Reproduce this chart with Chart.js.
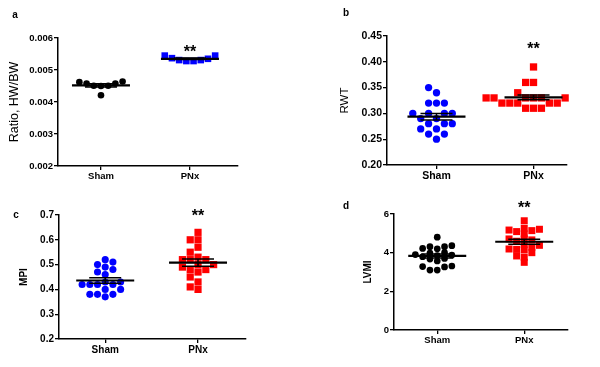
<!DOCTYPE html>
<html><head><meta charset="utf-8">
<script src="https://cdn.jsdelivr.net/npm/chart.js@4"></script>
<style>
body{margin:0;background:#fff;}
#wrap{position:relative;width:600px;height:367px;overflow:hidden;font-family:"Liberation Sans",Arial,sans-serif;background:#fff;}
canvas{position:absolute;}
.lbl{position:absolute;font-weight:bold;font-size:10px;line-height:10px;transform:translate(-50%,-50%);color:#000;}
</style></head><body>
<div id="wrap">
<canvas id="cA" width="300" height="190" style="left:0;top:0"></canvas>
<canvas id="cB" width="300" height="190" style="left:300px;top:0"></canvas>
<canvas id="cC" width="300" height="177" style="left:0;top:190px"></canvas>
<canvas id="cD" width="300" height="177" style="left:300px;top:190px"></canvas>
<div class="lbl" style="left:15px;top:15px">a</div>
<div class="lbl" style="left:346px;top:13px">b</div>
<div class="lbl" style="left:16px;top:215px">c</div>
<div class="lbl" style="left:346px;top:206px">d</div>
</div>
<script>
// ---------- data ----------
const categories = ['Sham', 'PNx'];
const sigLabel = '**';

const hwbwSham = [0.00462, 0.00458, 0.00451, 0.00450, 0.00451, 0.00458, 0.00464, 0.00421];
const hwbwPNx  = [0.00545, 0.00535, 0.00531, 0.00528, 0.00528, 0.00531, 0.00537, 0.00545];
const hwbwTicks = [0.002, 0.003, 0.004, 0.005, 0.006];
const hwbwTickLabels = ['0.002', '0.003', '0.004', '0.005', '0.006'];

const rwtSham = [0.35, 0.34, 0.32, 0.32, 0.32, 0.30, 0.30, 0.30, 0.30, 0.29, 0.29, 0.28, 0.28, 0.28, 0.27, 0.27, 0.26, 0.26, 0.25];
const rwtPNx  = [0.39, 0.36, 0.36, 0.34, 0.33, 0.33, 0.33, 0.33, 0.33, 0.33, 0.33, 0.32, 0.32, 0.32, 0.32, 0.32, 0.31, 0.31, 0.31];
const rwtTicks = [0.20, 0.25, 0.30, 0.35, 0.40, 0.45];
const rwtTickLabels = ['0.20', '0.25', '0.30', '0.35', '0.40', '0.45'];

const mpiSham = [0.52, 0.51, 0.50, 0.49, 0.48, 0.47, 0.46, 0.43, 0.43, 0.42, 0.42, 0.42, 0.42, 0.40, 0.40, 0.38, 0.38, 0.38, 0.37];
const mpiPNx  = [0.63, 0.60, 0.60, 0.57, 0.55, 0.53, 0.52, 0.52, 0.52, 0.50, 0.50, 0.49, 0.48, 0.48, 0.47, 0.45, 0.43, 0.41, 0.40];
const mpiTicks = [0.2, 0.3, 0.4, 0.5, 0.6, 0.7];
const mpiTickLabels = ['0.2', '0.3', '0.4', '0.5', '0.6', '0.7'];

const lvmiSham = [4.80, 4.36, 4.31, 4.31, 4.22, 4.20, 4.00, 3.98, 3.90, 3.88, 3.85, 3.79, 3.70, 3.67, 3.57, 3.31, 3.28, 3.26, 3.10, 3.10];
const lvmiPNx  = [5.65, 5.26, 5.21, 5.17, 5.14, 5.09, 4.97, 4.71, 4.71, 4.66, 4.59, 4.43, 4.38, 4.28, 4.19, 4.17, 4.14, 4.00, 3.83, 3.76, 3.50];
const lvmiTicks = [0, 2, 4, 6];
const lvmiTickLabels = ['0', '2', '4', '6'];

const sigLevels = [0.0057, 0.4326, 0.7133, 6.52];

// ---------- helpers ----------
const FONT = '"Liberation Sans", Arial, Helvetica, sans-serif';
const BLUE = '#0000ff', RED = '#ff0000', BLACK = '#000000';

// beeswarm layout computed from the values (no typed coordinates)
function swarm(vals, center, step, vthr, rowTol, valPerPx, unitPerPx) {
  const order = vals.map((v, i) => i).sort((a, b) => vals[a] - vals[b]);
  const placed = [];
  order.forEach(i => {
    const yp = vals[i] / valPerPx;
    let dx = 0;
    for (let t = 0; t < 400; t++) {
      const cand = t === 0 ? 0 : (t % 2 ? -1 : 1) * Math.ceil(t / 2) * step / 2;
      const hit = placed.some(p => Math.abs(p.dx - cand) < step * 0.95 && Math.abs(p.y - yp) < vthr);
      if (!hit) { dx = cand; break; }
    }
    placed.push({ i, dx, y: yp });
  });
  // optional re-centring of rows of near-equal values
  if (rowTol > 0) {
    let row = [];
    const flush = () => {
      if (!row.length) return;
      const lo = Math.min(...row.map(p => p.dx)), hi = Math.max(...row.map(p => p.dx));
      const sh = (lo + hi) / 2;
      row.forEach(p => { p.dx -= sh; });
      row = [];
    };
    placed.forEach(p => {
      if (row.length && p.y - row[0].y >= rowTol) flush();
      row.push(p);
    });
    flush();
  }
  const out = new Array(vals.length);
  placed.forEach(p => { out[p.i] = { x: center + p.dx * unitPerPx, y: vals[p.i] }; });
  return out;
}

const meanSemPlugin = {
  id: 'meanSem',
  afterDatasetsDraw(chart, args, opts) {
    const { ctx, scales: { x, y } } = chart;
    ctx.save();
    ctx.strokeStyle = '#000';
    ctx.fillStyle = '#000';
    opts.groups.forEach((vals, i) => {
      const n = vals.length;
      const m = vals.reduce((a, b) => a + b, 0) / n;
      const sd = Math.sqrt(vals.reduce((a, b) => a + (b - m) * (b - m), 0) / (n - 1));
      const sem = sd / Math.sqrt(n);
      const cx = x.getPixelForValue(i + 1);
      const ym = y.getPixelForValue(m), yt = y.getPixelForValue(m + sem), yb = y.getPixelForValue(m - sem);
      ctx.lineWidth = 1.5;
      ctx.beginPath();
      ctx.moveTo(cx, yt); ctx.lineTo(cx, yb);
      ctx.moveTo(cx - opts.cap, yt); ctx.lineTo(cx + opts.cap, yt);
      ctx.moveTo(cx - opts.cap, yb); ctx.lineTo(cx + opts.cap, yb);
      ctx.stroke();
      ctx.lineWidth = 2.2;
      ctx.beginPath();
      ctx.moveTo(cx - opts.half, ym); ctx.lineTo(cx + opts.half, ym);
      ctx.stroke();
    });
    const fs = opts.sigSize;
    ctx.font = 'bold ' + fs + 'px ' + FONT;
    ctx.textAlign = 'center';
    ctx.textBaseline = 'alphabetic';
    ctx.fillText(opts.sigText, x.getPixelForValue(2), y.getPixelForValue(opts.sigY) + 0.58 * fs);
    ctx.restore();
  }
};

function makePanel(p) {
  const areaW = p.area.right - p.area.left;
  const areaH = p.area.bottom - p.area.top;
  const valPerPx = (p.yMax - p.yMin) / areaH;
  const unitPerPx = (p.xMax - p.xMin) / areaW;
  const xH = 24;
  const datasets = p.groups.map((vals, gi) => {
    const st = p.styles[gi];
    const side = st.size;
    return {
      label: categories[gi],
      data: swarm(vals, gi + 1, side + 0.6, p.vthr, p.rowTol, valPerPx, unitPerPx),
      pointStyle: st.shape,
      pointRadius: st.shape === 'rect' ? side / Math.SQRT2 : side / 2,
      backgroundColor: st.color,
      borderColor: st.color,
      borderWidth: 0,
      showLine: false
    };
  });
  const titleLH = p.titleFont.size * 1.2;
  new Chart(document.getElementById(p.id), {
    type: 'scatter',
    data: { datasets },
    options: {
      responsive: false,
      devicePixelRatio: 1,
      animation: false,
      events: [],
      clip: false,
      layout: { padding: { left: 0, right: p.W - p.area.right, top: p.area.top, bottom: p.H - p.area.bottom - xH } },
      plugins: {
        legend: { display: false },
        tooltip: { enabled: false },
        meanSem: { groups: p.groups, half: 29, cap: 16, sigText: sigLabel, sigY: p.sigY, sigSize: 16 }
      },
      scales: {
        x: {
          type: 'linear', min: p.xMin, max: p.xMax,
          afterBuildTicks: s => { s.ticks = categories.map((c, i) => ({ value: i + 1 })); },
          afterFit: s => { s.height = xH; },
          ticks: {
            autoSkip: false, maxRotation: 0, padding: 1, color: '#000',
            font: { family: FONT, size: p.tickSize, weight: 'bold' },
            callback: v => categories[Math.round(v) - 1]
          },
          grid: { display: true, drawOnChartArea: false, drawTicks: true, tickLength: 4, color: '#000', lineWidth: 1.3 },
          border: { display: true, color: '#000', width: 1.5 }
        },
        y: {
          type: 'linear', min: p.yMin, max: p.yMax,
          afterBuildTicks: s => { s.ticks = p.yTicks.map(v => ({ value: v })); },
          afterFit: s => { s.width = p.area.left; },
          ticks: {
            autoSkip: false, padding: 1, color: '#000',
            font: { family: FONT, size: p.tickSize, weight: 'bold' },
            callback: (v, i) => p.yTickLabels[i]
          },
          grid: { display: true, drawOnChartArea: false, drawTicks: true, tickLength: 4, color: '#000', lineWidth: 1.3 },
          border: { display: true, color: '#000', width: 1.5 },
          title: {
            display: true, text: p.title, color: '#000',
            font: Object.assign({ family: FONT, lineHeight: 1.2 }, p.titleFont),
            padding: { top: p.titleX - titleLH / 2, bottom: 0 }
          }
        }
      }
    },
    plugins: [meanSemPlugin]
  });
}

makePanel({
  id: 'cA', W: 300, H: 190, area: { left: 58, right: 238, top: 38, bottom: 166 },
  xMin: 0.517, xMax: 2.54, yMin: 0.002, yMax: 0.006, yTicks: hwbwTicks, yTickLabels: hwbwTickLabels,
  groups: [hwbwSham, hwbwPNx], vthr: 6, rowTol: 6,
  styles: [{ shape: 'circle', color: BLACK, size: 6.6 }, { shape: 'rect', color: BLUE, size: 6.6 }],
  title: 'Ratio, HW/BW', titleFont: { size: 12.5, weight: 'normal' }, titleX: 15, tickSize: 9.5, sigY: sigLevels[0]
});
makePanel({
  id: 'cB', W: 300, H: 190, area: { left: 87, right: 267, top: 36, bottom: 165 },
  xMin: 0.49, xMax: 2.345, yMin: 0.20, yMax: 0.45, yTicks: rwtTicks, yTickLabels: rwtTickLabels,
  groups: [rwtSham, rwtPNx], vthr: 5.5, rowTol: 0,
  styles: [{ shape: 'circle', color: BLUE, size: 7.3 }, { shape: 'rect', color: RED, size: 7.3 }],
  title: 'RWT', titleFont: { size: 11.5, weight: 'normal' }, titleX: 45, tickSize: 10.5, sigY: sigLevels[1]
});
makePanel({
  id: 'cC', W: 300, H: 177, area: { left: 59, right: 246, top: 25, bottom: 149 },
  xMin: 0.502, xMax: 2.517, yMin: 0.2, yMax: 0.7, yTicks: mpiTicks, yTickLabels: mpiTickLabels,
  groups: [mpiSham, mpiPNx], vthr: 5, rowTol: 0,
  styles: [{ shape: 'circle', color: BLUE, size: 7.1 }, { shape: 'rect', color: RED, size: 7.2 }],
  title: 'MPI', titleFont: { size: 10, weight: 'bold' }, titleX: 24, tickSize: 10, sigY: sigLevels[2]
});
makePanel({
  id: 'cD', W: 300, H: 177, area: { left: 94, right: 268, top: 24, bottom: 140 },
  xMin: 0.503, xMax: 2.503, yMin: 0, yMax: 6, yTicks: lvmiTicks, yTickLabels: lvmiTickLabels,
  groups: [lvmiSham, lvmiPNx], vthr: 5, rowTol: 0,
  styles: [{ shape: 'circle', color: BLACK, size: 6.7 }, { shape: 'rect', color: RED, size: 7.0 }],
  title: 'LVMI', titleFont: { size: 10, weight: 'bold' }, titleX: 68, tickSize: 9.5, sigY: sigLevels[3]
});
</script>
</body></html>
